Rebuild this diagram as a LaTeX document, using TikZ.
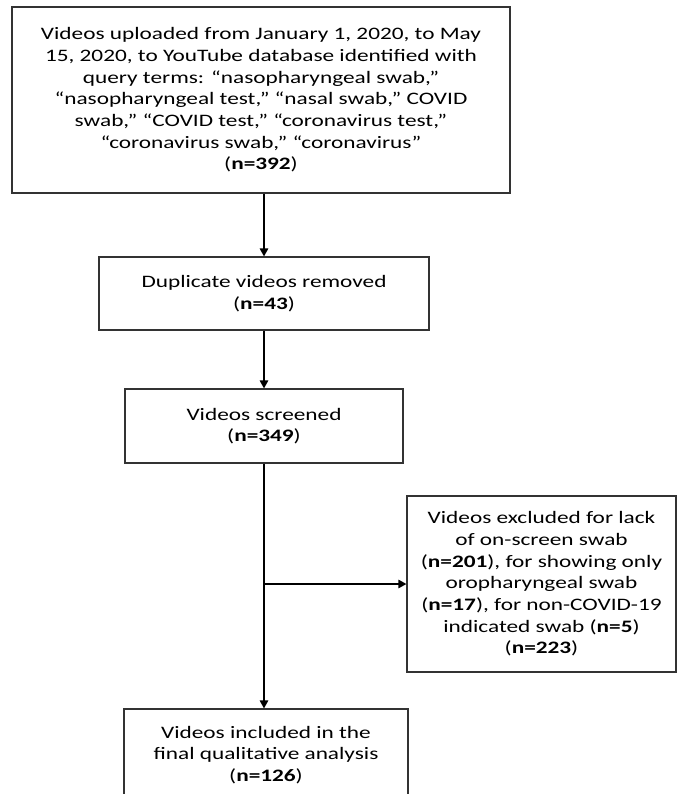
\documentclass[tikz,border=0pt]{standalone}
\usepackage{fontspec}
\setmainfont{Carlito}[FakeStretch=1.33]
\usetikzlibrary{arrows.meta}
\begin{document}
\begin{tikzpicture}[x=1pt,y=-1pt,
  box/.style={draw=black!80,line width=1.2pt,rectangle,align=center,inner sep=0pt,
    font=\fontsize{17.5}{21.7}\selectfont},
  arr/.style={line width=1.3pt,-{Triangle[length=8pt,width=8.5pt]}}]
\useasboundingbox (0,0) rectangle (678,794);
\clip (0,0) rectangle (678,794);
\node[box,minimum width=498,minimum height=186] (b1) at (261,100)
  {Videos uploaded from January 1, 2020, to May\\
   15, 2020, to YouTube database identified with\\
   query terms: “nasopharyngeal swab,”\\
   “nasopharyngeal test,” “nasal swab,” COVID\\
   swab,” “COVID test,” “coronavirus test,”\\
   “coronavirus swab,” “coronavirus”\\
   (\textbf{n=392})};
\node[box,minimum width=330,minimum height=73] (b2) at (264,293.5)
  {Duplicate videos removed\\(\textbf{n=43})};
\node[box,minimum width=278,minimum height=74] (b3) at (264,426)
  {Videos screened\\(\textbf{n=349})};
\node[box,minimum width=269,minimum height=176] (b4) at (541.5,584)
  {Videos excluded for lack\\
   of on-screen swab\\
   (\textbf{n=201}), for showing only\\
   oropharyngeal swab\\
   (\textbf{n=17}), for non-COVID-19\\
   indicated swab (\textbf{n=5})\\
   (\textbf{n=223})};
\node[box,minimum width=284,minimum height=92] (b5) at (266,755)
  {Videos included in the\\final qualitative analysis\\(\textbf{n=126})};
\coordinate (j) at (b3.south |- b4.west);
\draw[arr] (b2.north |- b1.south) -- (b2.north);
\draw[arr] (b2.south) -- (b3.north);
\draw[arr] (b3.south) -- (b3.south |- b5.north);
\draw[arr] (j) -- (b4.west);
\end{tikzpicture}
\end{document}
